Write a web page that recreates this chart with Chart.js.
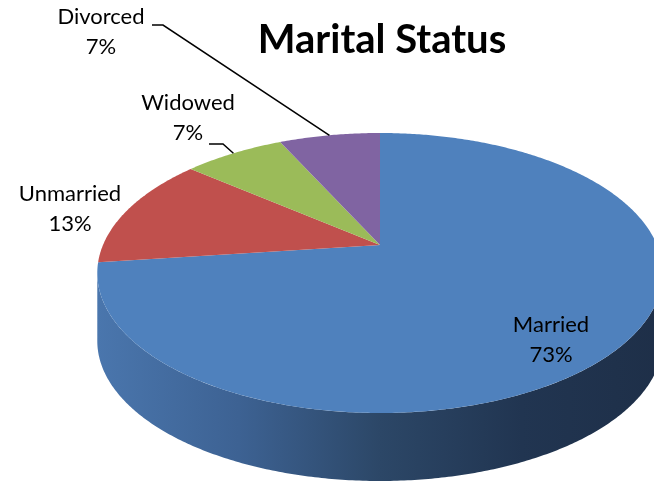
<!DOCTYPE html>
<html>
<head>
<meta charset="utf-8">
<script src="https://cdn.jsdelivr.net/npm/chart.js@4/dist/chart.umd.min.js"></script>
<style>
  html, body { margin: 0; padding: 0; background: #fff; }
  #wrap { width: 654px; height: 483px; }
</style>
</head>
<body>
<div id="wrap"><canvas id="chart" width="654" height="483"></canvas></div>
<script>
const categories = ["Married", "Unmarried", "Widowed", "Divorced"];
const shares = [73, 13, 7, 7];
const pctLabels = ["73%", "13%", "7%", "7%"];
const sliceColors = ["#4F81BD", "#C0504D", "#9BBB59", "#8064A2"];
const sideColors = [
  ["#4A76AD", "#3D6293", "#2C4767", "#213551", "#1E2F48"],
  ["#9A3F3D", "#7A3230", "#5E2624", "#4E201E", "#451C1B"],
  ["#7C9647", "#647A39", "#4D5E2C", "#404E25", "#384520"],
  ["#664F82", "#524069", "#3F3150", "#342843", "#2E233B"],
];

// tilted disc seen in perspective (Excel 3-D pie look)
const view = { cx: 380, cy: 245, a: 277, b: 134.4, k: 0.2, depth: 68 };

// label placement (first line baseline) and leader bends
const labelSpots = [
  { x: 551, y: 332, leader: null },
  { x: 70, y: 201, leader: null },
  { x: 188, y: 110, leader: [[223, 144], [209, 144]] },
  { x: 101, y: 24, leader: [[163, 25], [152, 25]] },
];

function project(phi, r) {
  // phi measured clockwise from 12 o'clock
  const u = Math.sin(phi) * r;
  const v = -Math.cos(phi) * r;
  const w = 1 - view.k * v;
  return [view.cx + view.a * u / w, view.cy + view.b * v / w];
}

function arcPoints(s, e) {
  const pts = [];
  const n = Math.max(2, Math.ceil((e - s) / 0.01));
  for (let i = 0; i <= n; i++) pts.push(project(s + (e - s) * i / n, 1));
  return pts;
}

const pie3d = {
  id: "pie3d",
  beforeDatasetDraw(chart, args) {
    const ctx = chart.ctx;
    const arcs = args.meta.data;
    const front0 = Math.acos(-view.k);
    const front1 = 2 * Math.PI - front0;

    ctx.save();
    // side wall, only the part facing the viewer
    arcs.forEach((arc, i) => {
      const s = Math.max(arc.startAngle + Math.PI / 2, front0);
      const e = Math.min(arc.endAngle + Math.PI / 2, front1);
      if (e <= s) return;
      const top = arcPoints(s, e);
      const grad = ctx.createLinearGradient(view.cx - 283, 0, view.cx + 283, 0);
      sideColors[i].forEach((c, j) => grad.addColorStop(j / (sideColors[i].length - 1), c));
      ctx.beginPath();
      top.forEach((p, j) => (j ? ctx.lineTo(p[0], p[1]) : ctx.moveTo(p[0], p[1])));
      for (let j = top.length - 1; j >= 0; j--) ctx.lineTo(top[j][0], top[j][1] + view.depth);
      ctx.closePath();
      ctx.fillStyle = grad;
      ctx.fill();
    });

    // top faces
    arcs.forEach((arc) => {
      const pts = arcPoints(arc.startAngle + Math.PI / 2, arc.endAngle + Math.PI / 2);
      ctx.beginPath();
      ctx.moveTo(view.cx, view.cy);
      pts.forEach((p) => ctx.lineTo(p[0], p[1]));
      ctx.closePath();
      ctx.fillStyle = arc.options.backgroundColor;
      ctx.fill();
    });
    ctx.restore();
    return false;
  },
  afterDatasetsDraw(chart) {
    const ctx = chart.ctx;
    const arcs = chart.getDatasetMeta(0).data;
    ctx.save();
    ctx.fillStyle = "#000";
    ctx.strokeStyle = "#000";
    ctx.lineWidth = 1.5;
    ctx.font = "22px Lato";
    ctx.textAlign = "center";
    ctx.textBaseline = "alphabetic";
    arcs.forEach((arc, i) => {
      const spot = labelSpots[i];
      if (spot.leader) {
        const mid = (arc.startAngle + arc.endAngle) / 2 + Math.PI / 2;
        const p0 = project(mid, 1);
        ctx.beginPath();
        ctx.moveTo(p0[0], p0[1]);
        spot.leader.forEach((p) => ctx.lineTo(p[0], p[1]));
        ctx.stroke();
      }
      ctx.fillText(categories[i], spot.x, spot.y);
      ctx.fillText(pctLabels[i], spot.x, spot.y + 30);
    });
    ctx.restore();
  },
};

new Chart(document.getElementById("chart"), {
  type: "pie",
  data: {
    labels: categories,
    datasets: [{ data: shares, backgroundColor: sliceColors, borderWidth: 0 }],
  },
  options: {
    responsive: false,
    animation: false,
    layout: { padding: { left: 110 } },
    plugins: {
      legend: { display: false },
      tooltip: { enabled: false },
      title: {
        display: true,
        text: "Marital Status",
        color: "#000",
        font: { family: "Lato", size: 40, weight: "bold" },
        padding: { top: 16, bottom: 10 },
      },
    },
  },
  plugins: [pie3d],
});
</script>
</body>
</html>
